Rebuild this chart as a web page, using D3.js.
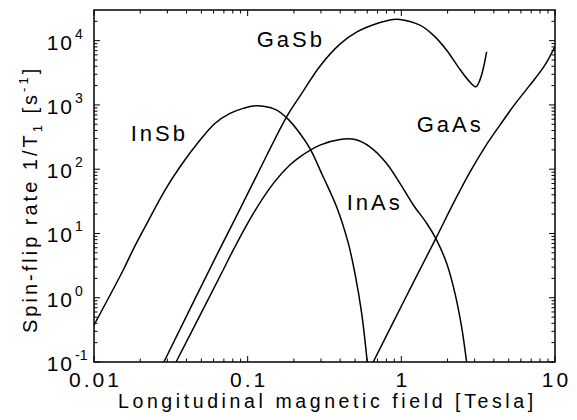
<!DOCTYPE html>
<html>
<head>
<meta charset="utf-8">
<script src="https://cdn.jsdelivr.net/npm/d3@7"></script>
<style>
  html, body { margin: 0; padding: 0; background: #fff; }
  svg { display: block; }
  text { font-family: "Liberation Sans", Arial, sans-serif; fill: #000; }
</style>
</head>
<body>
<svg id="chart" width="577" height="420"></svg>
<script>
// ---- Data (magnetic field in Tesla, spin-flip rate in 1/s) ----
const inSbB = [0.01, 0.0155, 0.0179, 0.0215, 0.029, 0.0363, 0.049, 0.0612, 0.0767, 0.0935, 0.113, 0.151, 0.181, 0.219, 0.254, 0.31, 0.379, 0.452, 0.499, 0.552, 0.6];
const inSbRate = [0.376, 2.70, 5.52, 12.7, 47.3, 109, 284, 515, 738, 883, 968, 851, 617, 360, 210, 76.2, 26.0, 7.0, 2.39, 0.571, 0.1];

const inAsB = [0.0342, 0.0693, 0.0805, 0.109, 0.147, 0.188, 0.219, 0.295, 0.399, 0.499, 0.625, 0.802, 0.98, 1.197, 1.462, 1.698, 1.972, 2.234, 2.466, 2.66];
const inAsRate = [0.1, 2.70, 5.52, 20.6, 60.1, 116, 156, 237, 290, 290, 223, 123, 60.1, 27.7, 14.4, 7.89, 3.43, 1.17, 0.354, 0.1];

const gaSbB = [0.0285, 0.0653, 0.0891, 0.1149, 0.1803, 0.2189, 0.2954, 0.3985, 0.514, 0.694, 0.886, 0.98, 1.321, 1.614, 1.972, 2.344, 2.723, 3.055, 3.243, 3.412, 3.589];
const gaSbRate = [0.1, 5.52, 23.9, 80.9, 670, 1371, 4009, 8830, 13700, 18500, 21400, 21380, 17420, 12190, 7112, 3917, 2432, 1914, 2432, 3690, 6699];

const gaAsB = [0.656, 1.04, 1.656, 2.234, 2.795, 3.499, 4.381, 5.484, 6.867, 8.595, 10];
const gaAsRate = [0.1, 0.89, 7.89, 33.0, 90.2, 221, 485, 1028, 2032, 4159, 8200];

const seriesNames = ["InSb", "InAs", "GaSb", "GaAs"];
const xTickValues = [0.01, 0.1, 1, 10];
const xTickLabels = ["0.01", "0.1", "1", "10"];
const yTickValues = [0.1, 1, 10, 100, 1000, 10000];
const yTickExponents = ["-1", "0", "1", "2", "3", "4"];

// ---- Layout ----
const svg = d3.select("#chart");
const pLeft = 94, pRight = 555, pTop = 10, pBottom = 362;

const x = d3.scaleLog().domain([0.01, 10]).range([pLeft, pRight]);
const y = d3.scaleLog().domain([0.1, 3e4]).range([pBottom, pTop]);

svg.append("defs").append("clipPath").attr("id", "plotClip")
  .append("rect").attr("x", pLeft).attr("y", pTop)
  .attr("width", pRight - pLeft).attr("height", pBottom - pTop);

// curves
const series = [
  {name: "InSb", b: inSbB, r: inSbRate},
  {name: "InAs", b: inAsB, r: inAsRate},
  {name: "GaSb", b: gaSbB, r: gaSbRate},
  {name: "GaAs", b: gaAsB, r: gaAsRate}
];
const line = d3.line().x(d => x(d[0])).y(d => y(d[1])).curve(d3.curveCatmullRom.alpha(0.5));
const g = svg.append("g").attr("clip-path", "url(#plotClip)");
series.forEach(s => {
  g.append("path")
    .datum(d3.zip(s.b, s.r))
    .attr("d", line)
    .attr("fill", "none")
    .attr("stroke", "#000")
    .attr("stroke-width", 1.5);
});

// minor tick values
const xMinor = [];
for (let e = -2; e < 1; e++) for (let m = 2; m <= 9; m++) xMinor.push(m * Math.pow(10, e));
const yMinor = [];
for (let e = -1; e <= 4; e++) for (let m = 2; m <= 9; m++) { const v = m * Math.pow(10, e); if (v < 3e4) yMinor.push(v); }

// axes (ticks inward)
const tickG = svg.append("g").attr("stroke", "#000").attr("stroke-width", 1);
const majLen = 6, minLen = 3.5;
xTickValues.forEach(v => {
  tickG.append("line").attr("x1", x(v)).attr("x2", x(v)).attr("y1", pBottom).attr("y2", pBottom - majLen);
  tickG.append("line").attr("x1", x(v)).attr("x2", x(v)).attr("y1", pTop).attr("y2", pTop + majLen);
});
xMinor.forEach(v => {
  tickG.append("line").attr("x1", x(v)).attr("x2", x(v)).attr("y1", pBottom).attr("y2", pBottom - minLen);
  tickG.append("line").attr("x1", x(v)).attr("x2", x(v)).attr("y1", pTop).attr("y2", pTop + minLen);
});
yTickValues.forEach(v => {
  tickG.append("line").attr("y1", y(v)).attr("y2", y(v)).attr("x1", pLeft).attr("x2", pLeft + majLen);
  tickG.append("line").attr("y1", y(v)).attr("y2", y(v)).attr("x1", pRight).attr("x2", pRight - majLen);
});
yMinor.forEach(v => {
  tickG.append("line").attr("y1", y(v)).attr("y2", y(v)).attr("x1", pLeft).attr("x2", pLeft + minLen);
  tickG.append("line").attr("y1", y(v)).attr("y2", y(v)).attr("x1", pRight).attr("x2", pRight - minLen);
});

// frame
svg.append("rect").attr("x", pLeft).attr("y", pTop)
  .attr("width", pRight - pLeft).attr("height", pBottom - pTop)
  .attr("fill", "none").attr("stroke", "#000").attr("stroke-width", 1.5);

// x tick labels
xTickValues.forEach((v, i) => {
  svg.append("text")
    .attr("x", x(v) + 1.5).attr("y", 387)
    .attr("text-anchor", "middle")
    .style("font-size", "21px").style("letter-spacing", "3px")
    .text(xTickLabels[i]);
});

// y tick labels
yTickValues.forEach((v, i) => {
  svg.append("text")
    .attr("x", 74).attr("y", y(v) + 9)
    .attr("text-anchor", "end")
    .style("font-size", "21px").style("letter-spacing", "2px")
    .text("10");
  svg.append("text")
    .attr("x", 75).attr("y", y(v) - 2)
    .style("font-size", "14px")
    .text(yTickExponents[i]);
});

// axis titles
svg.append("text")
  .attr("x", 118).attr("y", 408)
  .style("font-size", "19.5px").style("letter-spacing", "3.6px")
  .text("Longitudinal magnetic field [Tesla]");

const yt = svg.append("text")
  .attr("transform", "translate(37,333) rotate(-90)")
  .attr("text-anchor", "start")
  .style("font-size", "20px").style("letter-spacing", "3px");
yt.append("tspan").text("Spin-flip rate 1/T");
yt.append("tspan").attr("dy", 5).style("font-size", "13px").text("1");
yt.append("tspan").attr("dy", -5).text(" [s");
yt.append("tspan").attr("dy", -9).style("font-size", "13px").text("-1");
yt.append("tspan").attr("dy", 9).text("]");

// series labels
const labelPos = {InSb: [130.7, 141], InAs: [346.7, 210], GaSb: [256.7, 46.7], GaAs: [416.7, 131.7]};
seriesNames.forEach(n => {
  svg.append("text")
    .attr("x", labelPos[n][0]).attr("y", labelPos[n][1])
    .style("font-size", "22px").style("letter-spacing", "3px")
    .text(n);
});
</script>
</body>
</html>
